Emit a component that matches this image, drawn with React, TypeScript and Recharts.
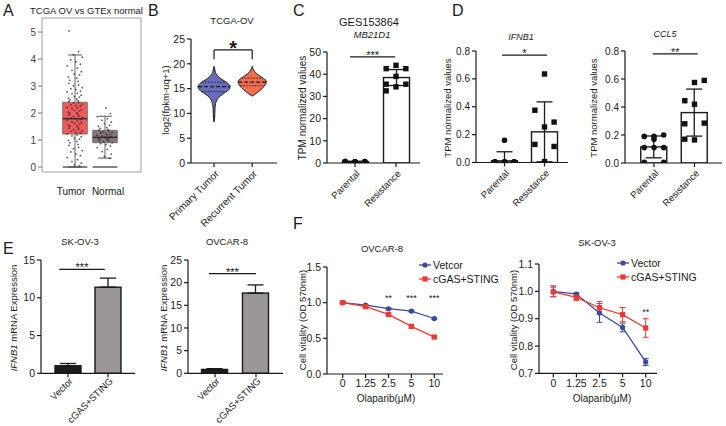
import React from 'react';
import {
  ComposedChart,
  Bar,
  Line,
  Area,
  Scatter,
  XAxis,
  YAxis,
  ErrorBar,
  ReferenceLine,
  ReferenceArea,
  ReferenceDot,
} from 'recharts';

const FONT = '"Liberation Sans", Arial, Helvetica, sans-serif';
const INK = '#1a1a1a';
const BLUE = '#3b4a9e';
const RED = '#ec3a33';

// ---------- A: TCGA OV vs GTEx normal (box + jitter) ----------
const gepiaGroups = ['Tumor', 'Normal'];
const gepiaQ1 = [1.22, 0.9];
const gepiaMedian = [1.79, 1.1];
const gepiaQ3 = [2.4, 1.36];
const gepiaLow = [0.0, 0.33];
const gepiaHigh = [4.15, 1.88];
const tumorTpm = [
  5.04, 4.28, 4.16, 4.07, 3.97, 3.9, 3.81, 3.75, 3.66, 3.58, 3.53, 3.45, 3.41, 3.33, 3.29, 3.21,
  3.17, 3.1, 3.04, 3.01, 2.94, 2.9, 2.87, 2.81, 2.78, 2.73, 2.71, 2.66, 2.61, 2.59, 2.55, 2.51,
  2.49, 2.45, 2.43, 2.39, 2.37, 2.33, 2.31, 2.27, 2.26, 2.21, 2.19, 2.17, 2.12, 2.1, 2.08, 2.03,
  2.01, 1.99, 1.95, 1.93, 1.89, 1.87, 1.84, 1.81, 1.78, 1.76, 1.74, 1.7, 1.68, 1.64, 1.62, 1.58,
  1.56, 1.52, 1.5, 1.46, 1.44, 1.4, 1.38, 1.34, 1.32, 1.28, 1.26, 1.22, 1.19, 1.15, 1.12, 1.07,
  1.03, 0.99, 0.95, 0.9, 0.84, 0.8, 0.73, 0.68, 0.61, 0.56, 0.48, 0.42, 0.35, 0.27, 0.2, 0.14,
  0.08, 0.04,
];
const normalTpm = [
  2.19, 1.98, 1.87, 1.79, 1.73, 1.66, 1.61, 1.55, 1.51, 1.46, 1.43, 1.39, 1.36, 1.34, 1.31, 1.28,
  1.26, 1.23, 1.21, 1.18, 1.16, 1.14, 1.12, 1.1, 1.08, 1.06, 1.04, 1.02, 1.0, 0.98, 0.96, 0.93,
  0.9, 0.87, 0.83, 0.78, 0.72, 0.65, 0.57, 0.48, 0.39, 0.32,
];

// ---------- B: TCGA-OV violins ----------
const violinGroups = ['Primary Tumor', 'Recurrent Tumor'];
const violinLevels = [8.3, 9, 10, 11, 11.5, 12, 12.5, 13, 13.5, 14, 14.5, 15, 15.5, 16, 16.5, 17, 17.5, 18, 18.5, 19, 19.5];
const primaryHalf = [0, 0.015, 0.02, 0.025, 0.03, 0.04, 0.06, 0.1, 0.16, 0.25, 0.34, 0.41, 0.42, 0.37, 0.28, 0.18, 0.1, 0.05, 0.03, 0.015, 0];
const recurrentHalf = [null, null, null, null, null, null, null, null, 0, 0.1, 0.18, 0.26, 0.31, 0.36, 0.37, 0.3, 0.21, 0.12, 0.06, 0.02, 0];
const violinMedian = [15.4, 16.3];
const violinQ1 = [14.4, 15.6];
const violinQ3 = [16.3, 17.1];

// ---------- C / D: TPM dot + bar ----------
const tpmGroups = ['Parental', 'Resistance'];
const mb21d1Mean = [0.6, 38.5];
const mb21d1Sd = [0.2, 3.6];
const mb21d1Parental = [0.5, 0.65, 0.7, 0.55, 0.6, 0.6, 0.5, 0.7];
const mb21d1Resistance = [44, 42.5, 42.5, 39, 35.5, 35.5, 34.3, 32.5];

const ifnb1Mean = [0.012, 0.22];
const ifnb1Sd = [0.065, 0.215];
const ifnb1Parental = [0.16, 0.005, 0.005, 0.005, 0.005, 0.005, 0.005];
const ifnb1Resistance = [0.635, 0.375, 0.29, 0.255, 0.13, 0.115, 0.007];

const ccl5Mean = [0.115, 0.36];
const ccl5Sd = [0.078, 0.168];
const ccl5Parental = [0.17, 0.19, 0.2, 0.19, 0.11, 0.11, 0.11, 0.005, 0.005];
const ccl5Resistance = [0.575, 0.445, 0.59, 0.42, 0.28, 0.285, 0.165, 0.17];

// ---------- E: IFNB1 qPCR ----------
const expGroups = ['Vector', 'cGAS+STING'];
const skov3Expr = [1.0, 11.4];
const skov3ExprSd = [0.3, 1.2];
const ovcar8Expr = [0.85, 17.7];
const ovcar8ExprSd = [0.18, 1.8];

// ---------- F: Olaparib dose response ----------
const doses = ['0', '1.25', '2.5', '5', '10'];
const ovcar8Vector = [1.0, 0.965, 0.915, 0.882, 0.778];
const ovcar8VectorSd = [0.01, 0.01, 0.012, 0.01, 0.012];
const ovcar8Cgas = [1.0, 0.944, 0.835, 0.668, 0.518];
const ovcar8CgasSd = [0.012, 0.012, 0.015, 0.022, 0.015];
const ovcar8Sig = ['', '', '**', '***', '***'];
const skov3Vector = [1.0, 0.99, 0.921, 0.868, 0.742];
const skov3VectorSd = [0.02, 0.005, 0.034, 0.016, 0.013];
const skov3Cgas = [0.998, 0.978, 0.94, 0.915, 0.866];
const skov3CgasSd = [0.017, 0.012, 0.023, 0.026, 0.034];
const skov3Sig = ['', '', '', '', '**'];

// ---------- layout helpers ----------
type Rect = { x0: number; y0: number; x1: number; y1: number };
const PL = 40;
const PT = 12;
const PR = 8;
const PB = 64;

function frameOf(r: Rect) {
  return {
    box: { position: 'absolute' as const, left: r.x0 - PL, top: r.y0 - PT },
    width: r.x1 - r.x0 + PL + PR,
    height: r.y1 - r.y0 + PT + PB,
    margin: { top: PT, right: PR, bottom: 0, left: 0 },
  };
}

const JITTER = [-0.2, 0.12, -0.05, 0.24, -0.14, 0.03, 0.18, -0.26, 0.08, -0.1, 0.21, -0.02, 0.15, -0.22, 0.06, -0.17, 0.1];
const COLS = [0, -0.24, 0.24];

const axisStroke = { stroke: INK, strokeWidth: 1.2 };
const NoTick = () => <g />;

function tickFont(size: number) {
  return { fontSize: size, fill: INK, fontFamily: FONT };
}

function halfAt(halves: (number | null)[], y: number) {
  for (let i = 0; i < violinLevels.length - 1; i++) {
    const a = violinLevels[i];
    const b = violinLevels[i + 1];
    if (y >= a && y <= b) {
      const ha = halves[i] ?? 0;
      const hb = halves[i + 1] ?? 0;
      return ha + ((hb - ha) * (y - a)) / (b - a);
    }
  }
  return 0;
}

const starShape = (text: string, size: number, dy: number, bold = false) => (p: any) => (
  <text x={p.cx} y={p.cy + dy} textAnchor="middle" fontSize={size} fontWeight={bold ? 'bold' : 'normal'} fill={INK} fontFamily={FONT}>
    {text}
  </text>
);

const SquareMark = (p: any) => <rect x={p.cx - 2.7} y={p.cy - 2.7} width={5.4} height={5.4} fill="#111" />;
const RoundMark = (p: any) => <circle cx={p.cx} cy={p.cy} r={2.8} fill="#111" />;

// panel frames (plot area in page pixels + x domain)
const RECT_A: Rect = { x0: 42, y0: 18, x1: 141, y1: 172 };
const RECT_B: Rect = { x0: 191, y0: 39, x1: 277, y1: 163 };
const DOMAIN_B: [number, number] = [0.396, 2.65];
const PANEL_C = { rect: { x0: 327, y0: 52, x1: 420, y1: 163 }, xDomain: [0.317, 2.585] as [number, number] };
const PANEL_D = { rect: { x0: 476, y0: 51, x1: 568, y1: 162.5 }, xDomain: [0.2875, 2.5875] as [number, number] };
const PANEL_CCL5 = { rect: { x0: 625, y0: 50.5, x1: 722, y1: 162.5 }, xDomain: [0.284, 2.679] as [number, number] };
const PANEL_E1 = { rect: { x0: 41, y0: 260, x1: 135, y1: 373.3 }, xDomain: [0.325, 2.675] as [number, number] };
const PANEL_E2 = { rect: { x0: 188, y0: 260, x1: 283, y1: 373.3 }, xDomain: [0.341, 2.659] as [number, number] };

// ---------- panel A ----------
const GepiaTick = (props: any) => {
  const { x, y, payload } = props;
  if (payload.value === 1.5) return <line x1={x} x2={x} y1={y - 6} y2={y - 2} stroke="#888" />;
  const shift = payload.value === 1 ? -4 : 3;
  return (
    <text x={x + shift} y={y + 17} textAnchor="middle" fontSize={10} fill={INK} fontFamily={FONT}>
      {gepiaGroups[payload.value - 1]}
    </text>
  );
};

function GepiaPanel() {
  const f = frameOf(RECT_A);
  const colors = ['#ef5b5c', '#867777'];
  const pts = [tumorTpm, normalTpm];
  return (
    <div style={f.box}>
      <ComposedChart width={f.width} height={f.height} margin={f.margin}>
        <XAxis type="number" dataKey="x" domain={[-0.1, 3.2]} ticks={[1, 1.5, 2]} axisLine={false} tickLine={false} tickSize={4} tick={GepiaTick} height={PB} allowDataOverflow />
        <YAxis type="number" dataKey="y" domain={[-0.185, 5.52]} ticks={[0, 1, 2, 3, 4, 5]} axisLine={false} tickLine={{ stroke: '#777' }} tickSize={4} width={PL} tick={{ fontSize: 10, fill: '#444', fontFamily: FONT }} allowDataOverflow />
        <ReferenceArea x1={-0.1} x2={3.2} y1={-0.185} y2={5.52} fill="none" stroke="#a0a0a0" strokeWidth={1} />
        {gepiaGroups.map((g, i) => {
          const c = i + 1;
          return (
            <React.Fragment key={g}>
              <ReferenceLine segment={[{ x: c, y: gepiaQ3[i] }, { x: c, y: gepiaHigh[i] }]} stroke="#666" />
              <ReferenceLine segment={[{ x: c, y: gepiaLow[i] }, { x: c, y: gepiaQ1[i] }]} stroke="#666" />
              <ReferenceLine segment={[{ x: c - 0.23, y: gepiaHigh[i] }, { x: c + 0.23, y: gepiaHigh[i] }]} stroke="#555" />
              <ReferenceLine segment={[{ x: c - 0.23, y: gepiaLow[i] }, { x: c + 0.23, y: gepiaLow[i] }]} stroke="#555" />
              <ReferenceArea x1={c - 0.41} x2={c + 0.41} y1={gepiaQ1[i]} y2={gepiaQ3[i]} fill={colors[i]} fillOpacity={1} stroke="#666" strokeWidth={0.8} />
              <ReferenceLine segment={[{ x: c - 0.41, y: 0 }, { x: c + 0.41, y: 0 }]} stroke="#444" strokeWidth={1.3} />
            </React.Fragment>
          );
        })}
        {pts.map((arr, g) => (
          <Scatter
            key={g}
            data={arr.map((y, i) => ({ x: g + 1 + JITTER[(i + g * 5) % JITTER.length], y }))}
            isAnimationActive={false}
            shape={(p: any) => <circle cx={p.cx} cy={p.cy} r={0.9} fill="#222" fillOpacity={0.75} />}
          />
        ))}
        {gepiaGroups.map((g, i) => (
          <ReferenceLine key={g + 'm'} segment={[{ x: i + 0.59, y: gepiaMedian[i] }, { x: i + 1.41, y: gepiaMedian[i] }]} stroke="#333" strokeWidth={1.5} />
        ))}
      </ComposedChart>
    </div>
  );
}

// ---------- panel B ----------
function ViolinPanel() {
  const f = frameOf(RECT_B);
  const halves = [primaryHalf, recurrentHalf];
  const span = (c: number, h: number | null) => (h == null ? [null, null] : [c - h, c + h]);
  const table = violinLevels.map((y, i) => ({
    y,
    primary: span(1, primaryHalf[i]),
    recurrent: span(2, recurrentHalf[i]),
  }));
  const seg = (i: number, v: number) => {
    const w = halfAt(halves[i], v);
    return [{ x: i + 1 - w, y: v }, { x: i + 1 + w, y: v }];
  };
  return (
    <div style={f.box}>
      <ComposedChart layout="vertical" data={table} width={f.width} height={f.height} margin={f.margin}>
        <XAxis type="number" domain={DOMAIN_B} ticks={[1, 2]} interval={0} axisLine={axisStroke} tickLine={axisStroke} tickSize={4} tick={NoTick} height={PB} allowDataOverflow />
        <YAxis type="number" dataKey="y" domain={[0, 25]} ticks={[0, 5, 10, 15, 20, 25]} reversed axisLine={axisStroke} tickLine={axisStroke} tickSize={4} width={PL} tick={tickFont(10.5)} allowDataOverflow />
        <Area dataKey="primary" type="monotone" fill="#6c6cbf" fillOpacity={1} stroke={INK} strokeWidth={1} isAnimationActive={false} />
        <Area dataKey="recurrent" type="monotone" fill="#f26d4e" fillOpacity={1} stroke={INK} strokeWidth={1} isAnimationActive={false} />
        {violinMedian.map((m, i) => (
          <ReferenceLine key={'m' + i} segment={seg(i, m)} stroke={INK} strokeWidth={1.2} strokeDasharray="4 2" />
        ))}
        {violinQ1.map((q, i) => (
          <ReferenceLine key={'q1' + i} segment={seg(i, q)} stroke={INK} strokeWidth={0.9} strokeDasharray="1.5 1.5" />
        ))}
        {violinQ3.map((q, i) => (
          <ReferenceLine key={'q3' + i} segment={seg(i, q)} stroke={INK} strokeWidth={0.9} strokeDasharray="1.5 1.5" />
        ))}
        <ReferenceLine segment={[{ x: 1, y: 20.9 }, { x: 1, y: 22.8 }]} stroke={INK} strokeWidth={1.2} />
        <ReferenceLine segment={[{ x: 1, y: 22.8 }, { x: 2, y: 22.8 }]} stroke={INK} strokeWidth={1.2} />
        <ReferenceLine segment={[{ x: 2, y: 22.8 }, { x: 2, y: 20.9 }]} stroke={INK} strokeWidth={1.2} />
        <ReferenceDot x={1.5} y={22.8} r={0} shape={starShape('*', 20, 5, true)} />
      </ComposedChart>
    </div>
  );
}

// ---------- bar panels (C, D, E) ----------
type BarPanelProps = {
  rect: Rect;
  xDomain: [number, number];
  yDomain: [number, number];
  yTicks: number[];
  decimals: number;
  means: number[];
  sds: number[];
  upOnly?: boolean;
  fills: string[];
  dots?: number[][];
  dotShapes?: any[];
  sig: string;
  sigY: number;
  sigX: [number, number];
  tickSize: number;
};

function BarPanel(props: BarPanelProps) {
  const f = frameOf(props.rect);
  const table = props.means.map((m, i) => ({
    x: i + 1,
    y: m,
    err: props.upOnly ? [0, props.sds[i]] : [Math.min(m, props.sds[i]), props.sds[i]],
  }));
  return (
    <div style={f.box}>
      <ComposedChart data={table} width={f.width} height={f.height} margin={f.margin}>
        <XAxis type="number" dataKey="x" domain={props.xDomain} ticks={[1, 2]} interval={0} axisLine={axisStroke} tickLine={axisStroke} tickSize={4} tick={NoTick} height={PB} allowDataOverflow />
        <XAxis xAxisId="bars" type="number" dataKey="x" domain={props.xDomain} hide allowDataOverflow />
        <YAxis
          type="number"
          dataKey="y"
          domain={props.yDomain}
          ticks={props.yTicks}
          tickFormatter={(v: number) => v.toFixed(props.decimals)}
          axisLine={axisStroke}
          tickLine={axisStroke}
          tickSize={4}
          width={PL}
          tick={tickFont(props.tickSize)}
          allowDataOverflow
        />
        <Bar
          xAxisId="bars"
          dataKey="y"
          barSize={26}
          isAnimationActive={false}
          shape={(p: any) => (
            <rect x={p.x} y={p.y} width={p.width} height={Math.max(p.height, 0.5)} fill={props.fills[p.index]} stroke={INK} strokeWidth={1.4} />
          )}
        >
          <ErrorBar dataKey="err" width={8} stroke={INK} strokeWidth={1.3} direction="y" />
        </Bar>
        {(props.dots || []).map((arr, g) => (
          <Scatter
            key={g}
            data={arr.map((y, i) => ({ x: g + 1 + COLS[i % COLS.length], y }))}
            isAnimationActive={false}
            shape={props.dotShapes ? props.dotShapes[g] : RoundMark}
          />
        ))}
        <ReferenceLine segment={[{ x: props.sigX[0], y: props.sigY }, { x: props.sigX[1], y: props.sigY }]} stroke={INK} strokeWidth={1.2} />
        <ReferenceDot x={(props.sigX[0] + props.sigX[1]) / 2} y={props.sigY} r={0} shape={starShape(props.sig, 11, 2)} />
      </ComposedChart>
    </div>
  );
}

// ---------- dose response panels (F) ----------
type DosePanelProps = {
  rect: Rect;
  xDomain: [number, number];
  yDomain: [number, number];
  yTicks: number[];
  vector: number[];
  vectorSd: number[];
  cgas: number[];
  cgasSd: number[];
  sig: string[];
  sigY: number;
};

function DosePanel(props: DosePanelProps) {
  const f = frameOf(props.rect);
  const table = doses.map((d, i) => ({
    i,
    v: props.vector[i],
    vErr: props.vectorSd[i],
    c: props.cgas[i],
    cErr: props.cgasSd[i],
  }));
  return (
    <div style={f.box}>
      <ComposedChart data={table} width={f.width} height={f.height} margin={f.margin}>
        <XAxis type="number" dataKey="i" domain={props.xDomain} ticks={[0, 1, 2, 3, 4]} interval={0} tickFormatter={(v: number) => doses[v]} axisLine={axisStroke} tickLine={axisStroke} tickSize={4} tick={tickFont(10.5)} height={PB} allowDataOverflow />
        <YAxis type="number" domain={props.yDomain} ticks={props.yTicks} tickFormatter={(v: number) => v.toFixed(1)} axisLine={axisStroke} tickLine={axisStroke} tickSize={4} width={PL} tick={tickFont(10.5)} allowDataOverflow />
        <Line
          dataKey="v"
          stroke={BLUE}
          strokeWidth={1.3}
          isAnimationActive={false}
          dot={(p: any) => <circle key={'v' + p.index} cx={p.cx} cy={p.cy} r={2.6} fill={BLUE} />}
        >
          <ErrorBar dataKey="vErr" width={3} stroke={BLUE} strokeWidth={1} direction="y" />
        </Line>
        <Line
          dataKey="c"
          stroke={RED}
          strokeWidth={1.3}
          isAnimationActive={false}
          dot={(p: any) => <rect key={'c' + p.index} x={p.cx - 2.6} y={p.cy - 2.6} width={5.2} height={5.2} fill={RED} />}
        >
          <ErrorBar dataKey="cErr" width={3} stroke={RED} strokeWidth={1} direction="y" />
        </Line>
        {props.sig.map((s, i) =>
          s ? <ReferenceDot key={i} x={i} y={props.sigY} r={0} shape={starShape(s, 9, 3)} /> : null,
        )}
      </ComposedChart>
    </div>
  );
}

// ---------- overlay text ----------
function T(p: { x: number; y: number; size?: number; anchor?: string; rotate?: number; italic?: boolean; bold?: boolean; children: React.ReactNode }) {
  return (
    <text
      x={p.x}
      y={p.y}
      fontSize={p.size ?? 10}
      textAnchor={p.anchor ?? 'middle'}
      fontStyle={p.italic ? 'italic' : undefined}
      fontWeight={p.bold ? 'bold' : undefined}
      transform={p.rotate ? `rotate(${p.rotate} ${p.x} ${p.y})` : undefined}
      fill={INK}
    >
      {p.children}
    </text>
  );
}

// 45-degree category labels under a panel, placed at the category positions of its x axis
const C45 = Math.SQRT1_2;
function SlantLabels(p: { rect: Rect; xDomain: [number, number]; labels: string[]; size: number; gap?: number }) {
  const { rect, xDomain, labels, size } = p;
  const px = (v: number) => rect.x0 + ((v - xDomain[0]) / (xDomain[1] - xDomain[0])) * (rect.x1 - rect.x0);
  return (
    <g>
      {labels.map((label, i) => {
        const x = px(i + 1) + 3;
        const y = rect.y1 + (p.gap ?? 9);
        return (
          <g key={label} transform={`matrix(${C45} ${-C45} ${C45} ${C45} ${x} ${y})`}>
            <text x={0} y={0} dy="0.35em" textAnchor="end" fontSize={size} fill={INK}>
              {label}
            </text>
          </g>
        );
      })}
    </g>
  );
}

function LegendRow(p: { x: number; y: number; color: string; square?: boolean; label: string }) {
  return (
    <g>
      <line x1={p.x} x2={p.x + 12} y1={p.y} y2={p.y} stroke={p.color} strokeWidth={1.3} />
      {p.square ? (
        <rect x={p.x + 3.4} y={p.y - 2.6} width={5.2} height={5.2} fill={p.color} />
      ) : (
        <circle cx={p.x + 6} cy={p.y} r={2.6} fill={p.color} />
      )}
      <text x={p.x + 14} y={p.y + 3.8} fontSize={10.5} fill={INK}>
        {p.label}
      </text>
    </g>
  );
}

function Overlay() {
  return (
    <svg width={726} height={426} style={{ position: 'absolute', left: 0, top: 0, pointerEvents: 'none', fontFamily: FONT }}>
      <T x={3} y={16} size={16} anchor="start">A</T>
      <T x={148} y={16} size={16} anchor="start">B</T>
      <T x={293} y={16} size={16} anchor="start">C</T>
      <T x={452} y={16} size={16} anchor="start">D</T>
      <T x={3} y={254} size={16} anchor="start">E</T>
      <T x={293} y={229} size={16} anchor="start">F</T>

      <T x={30} y={14} size={9.5} anchor="start">TCGA OV vs GTEx normal</T>
      <T x={232} y={24} size={9.5}>TCGA-OV</T>
      <T x={369} y={26} size={11}>GES153864</T>
      <T x={372} y={38} size={9.5} italic>MB21D1</T>
      <T x={521} y={40} size={9} italic>IFNB1</T>
      <T x={665} y={37} size={9} italic>CCL5</T>
      <T x={80} y={245} size={9.5}>SK-OV-3</T>
      <T x={227} y={245} size={9.5}>OVCAR-8</T>
      <T x={382} y={252} size={9.5}>OVCAR-8</T>
      <T x={597} y={246} size={9.5}>SK-OV-3</T>

      <T x={169} y={100} size={9.5} rotate={-90}>log2(fpkm-uq+1)</T>
      <T x={306} y={108} size={10} rotate={-90}>TPM normalized values</T>
      <T x={451} y={108} size={9.5} rotate={-90}>TPM normalized values</T>
      <T x={597} y={108} size={9.5} rotate={-90}>TPM normalized values</T>
      <T x={17} y={318} size={9.5} rotate={-90}>
        <tspan fontStyle="italic">IFNB1</tspan> mRNA Expression
      </T>
      <T x={167} y={318} size={9.5} rotate={-90}>
        <tspan fontStyle="italic">IFNB1</tspan> mRNA Expression
      </T>
      <T x={306} y={320} size={9.5} rotate={-90}>Cell vitality (OD 570nm)</T>
      <T x={517} y={320} size={9.5} rotate={-90}>Cell vitality (OD 570nm)</T>
      <T x={386} y={402} size={10}>Olaparib(μM)</T>
      <T x={602} y={402} size={10}>Olaparib(μM)</T>

      <SlantLabels rect={RECT_B} xDomain={DOMAIN_B} labels={violinGroups} size={10} />
      <SlantLabels rect={PANEL_C.rect} xDomain={PANEL_C.xDomain} labels={tpmGroups} size={9.5} />
      <SlantLabels rect={PANEL_D.rect} xDomain={PANEL_D.xDomain} labels={tpmGroups} size={9.5} />
      <SlantLabels rect={PANEL_CCL5.rect} xDomain={PANEL_CCL5.xDomain} labels={tpmGroups} size={9.5} />
      <SlantLabels rect={PANEL_E1.rect} xDomain={PANEL_E1.xDomain} labels={expGroups} size={9.5} gap={6} />
      <SlantLabels rect={PANEL_E2.rect} xDomain={PANEL_E2.xDomain} labels={expGroups} size={9.5} gap={6} />

      <LegendRow x={419} y={265} color={BLUE} label="Vetcor" />
      <LegendRow x={419} y={279} color={RED} square label="cGAS+STING" />
      <LegendRow x={617} y={263} color={BLUE} label="Vector" />
      <LegendRow x={617} y={277} color={RED} square label="cGAS+STING" />
    </svg>
  );
}

export default function App() {
  return (
    <div style={{ position: 'absolute', left: 0, top: 0, width: 726, height: 426, background: '#fff', fontFamily: FONT, overflow: 'hidden' }}>
      <GepiaPanel />
      <ViolinPanel />
      <BarPanel
        {...PANEL_C}
        yDomain={[0, 50]}
        yTicks={[0, 10, 20, 30, 40, 50]}
        decimals={0}
        means={mb21d1Mean}
        sds={mb21d1Sd}
        fills={['#fff', '#fff']}
        dots={[mb21d1Parental, mb21d1Resistance]}
        dotShapes={[RoundMark, SquareMark]}
        sig="***"
        sigY={47.8}
        sigX={[0.88, 1.98]}
        tickSize={10.5}
      />
      <BarPanel
        {...PANEL_D}
        yDomain={[0, 0.8]}
        yTicks={[0, 0.2, 0.4, 0.6, 0.8]}
        decimals={1}
        means={ifnb1Mean}
        sds={ifnb1Sd}
        fills={['#fff', '#fff']}
        dots={[ifnb1Parental, ifnb1Resistance]}
        dotShapes={[RoundMark, SquareMark]}
        sig="*"
        sigY={0.77}
        sigX={[0.94, 2.06]}
        tickSize={10}
      />
      <BarPanel
        {...PANEL_CCL5}
        yDomain={[0, 0.8]}
        yTicks={[0, 0.2, 0.4, 0.6, 0.8]}
        decimals={1}
        means={ccl5Mean}
        sds={ccl5Sd}
        fills={['#fff', '#fff']}
        dots={[ccl5Parental, ccl5Resistance]}
        dotShapes={[RoundMark, SquareMark]}
        sig="**"
        sigY={0.78}
        sigX={[0.97, 2.08]}
        tickSize={10}
      />
      <BarPanel
        {...PANEL_E1}
        yDomain={[0, 15]}
        yTicks={[0, 5, 10, 15]}
        decimals={0}
        means={skov3Expr}
        sds={skov3ExprSd}
        upOnly
        fills={['#1c1c1c', '#9b9797']}
        sig="***"
        sigY={13.75}
        sigX={[0.78, 1.92]}
        tickSize={10.5}
      />
      <BarPanel
        {...PANEL_E2}
        yDomain={[0, 25]}
        yTicks={[0, 5, 10, 15, 20, 25]}
        decimals={0}
        means={ovcar8Expr}
        sds={ovcar8ExprSd}
        upOnly
        fills={['#1c1c1c', '#9b9797']}
        sig="***"
        sigY={22}
        sigX={[0.85, 2.0]}
        tickSize={10.5}
      />
      <DosePanel
        rect={{ x0: 327, y0: 266.7, x1: 443, y1: 373.7 }}
        xDomain={[-0.686, 4.38]}
        yDomain={[0, 1.5]}
        yTicks={[0, 0.5, 1.0, 1.5]}
        vector={ovcar8Vector}
        vectorSd={ovcar8VectorSd}
        cgas={ovcar8Cgas}
        cgasSd={ovcar8CgasSd}
        sig={ovcar8Sig}
        sigY={1.06}
      />
      <DosePanel
        rect={{ x0: 539, y0: 264.3, x1: 657, y1: 373.7 }}
        xDomain={[-0.62, 4.49]}
        yDomain={[0.7, 1.1]}
        yTicks={[0.7, 0.8, 0.9, 1.0, 1.1]}
        vector={skov3Vector}
        vectorSd={skov3VectorSd}
        cgas={skov3Cgas}
        cgasSd={skov3CgasSd}
        sig={skov3Sig}
        sigY={0.925}
      />
      <Overlay />
    </div>
  );
}
